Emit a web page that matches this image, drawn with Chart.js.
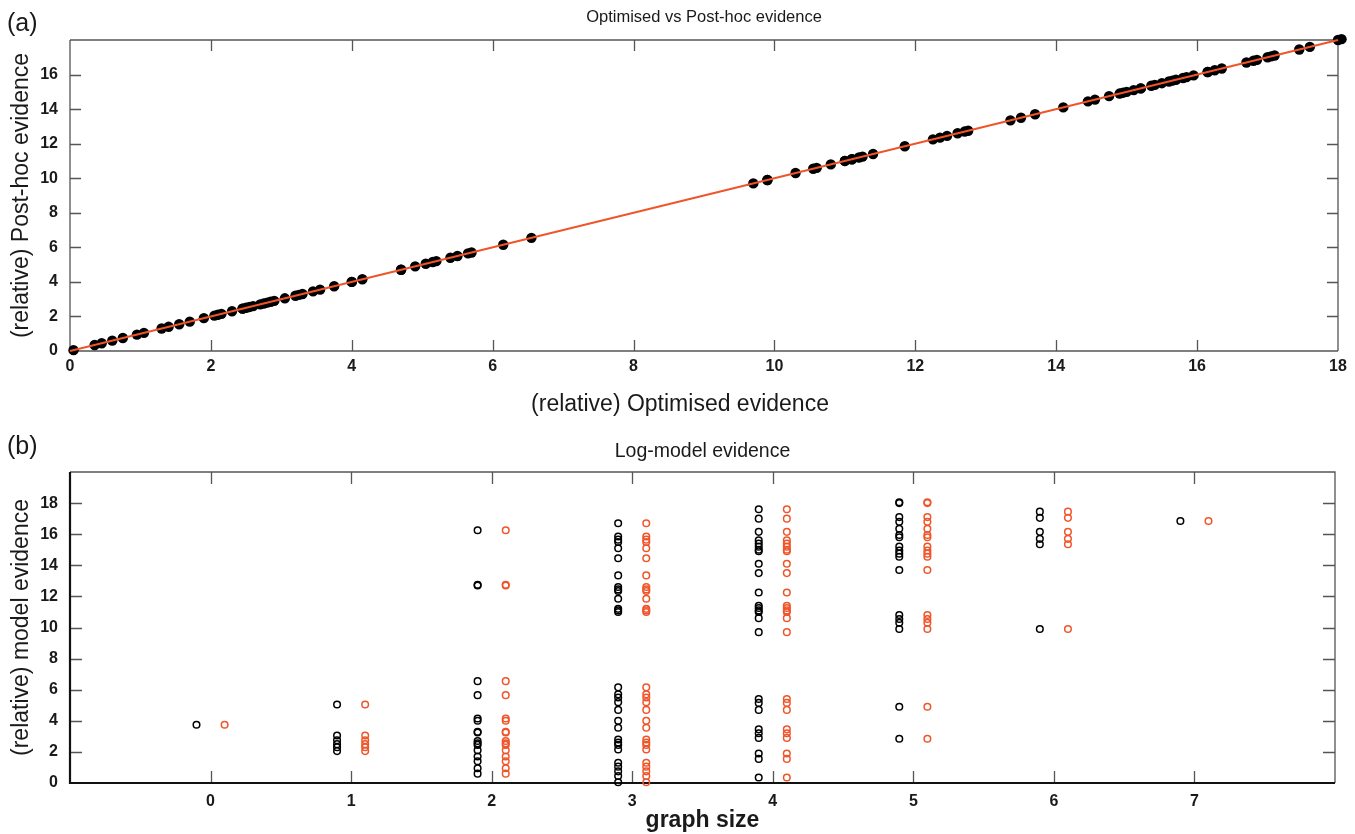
<!DOCTYPE html>
<html>
<head>
<meta charset="utf-8">
<title>Evidence plots</title>
<script src="https://cdn.jsdelivr.net/npm/chart.js@4.4.1/dist/chart.umd.min.js"></script>
<style>
  html, body { margin: 0; padding: 0; background: #fff; }
  canvas { position: absolute; left: 0; }
  #panelA { top: 0; }
  #panelB { top: 425px; }
</style>
</head>
<body>
<canvas id="panelA" width="1355" height="425"></canvas>
<canvas id="panelB" width="1355" height="409"></canvas>
<script>
// (relative) model evidence for every model, grouped by graph size
const graphSizes = [0, 1, 2, 3, 4, 5, 6, 7];
const size0 = [3.75];
const size1 = [5.05, 3.05, 2.75, 2.5, 2.3, 2.05];
const size2 = [16.25, 12.75, 12.7, 6.55, 5.65, 4.15, 4.0, 3.3, 3.25, 2.7, 2.55, 2.45, 2.1, 1.7, 1.4, 0.95, 0.6];
const size3 = [16.7, 15.85, 15.65, 15.5, 15.1, 14.45, 13.35, 12.6, 12.45, 12.35, 11.85, 11.2, 11.1, 11.0,
               6.15, 5.7, 5.5, 5.2, 4.7, 4.0, 3.55, 2.8, 2.6, 2.45, 2.15, 1.3, 1.05, 0.75, 0.45, 0.05];
const size4 = [17.6, 17.0, 16.15, 15.6, 15.4, 15.2, 15.0, 14.9, 14.1, 13.5, 12.25, 11.4, 11.25, 11.1, 11.0, 10.6, 9.7,
               5.4, 5.15, 4.7, 3.45, 3.2, 2.9, 1.9, 1.55, 0.35];
const size5 = [18.05, 18.0, 17.1, 16.8, 16.35, 15.95, 15.8, 15.2, 14.95, 14.75, 14.55, 13.7, 10.8, 10.55, 10.3, 9.9, 4.9, 2.85];
const size6 = [17.45, 17.05, 16.15, 15.7, 15.35, 9.9];
const size7 = [16.85];
const evidenceBySize = [size0, size1, size2, size3, size4, size5, size6, size7];

// diagonal reference line, optimised == post-hoc
const diagonalEnds = [0, 18];

// tick labels
const ticksA_x = [0, 2, 4, 6, 8, 10, 12, 14, 16, 18];
const ticksA_y = [0, 2, 4, 6, 8, 10, 12, 14, 16];
const ticksB_y = [0, 2, 4, 6, 8, 10, 12, 14, 16, 18];

const FONT = "'Liberation Sans', Arial, Helvetica, sans-serif";
const RED = '#f0552a';
const INK = '#1a1a1a';
const pairOffset = 0.1;

// matlab-ish box: frame plus short ticks pointing into the plot on all four sides
const boxTicks = {
  id: 'boxTicks',
  beforeDatasetsDraw(chart, args, opts) {
    const { ctx, chartArea: a, scales } = chart;
    const len = opts.len || 11;
    ctx.save();
    ctx.strokeStyle = opts.color || '#555';
    ctx.lineWidth = 1.3;
    ctx.beginPath();
    (opts.x || []).forEach(v => {
      const px = Math.round(scales.x.getPixelForValue(v)) + 0.5;
      ctx.moveTo(px, a.top); ctx.lineTo(px, a.top + len);
      ctx.moveTo(px, a.bottom); ctx.lineTo(px, a.bottom - len);
    });
    (opts.y || []).forEach(v => {
      const py = Math.round(scales.y.getPixelForValue(v)) + 0.5;
      ctx.moveTo(a.left, py); ctx.lineTo(a.left + len, py);
      ctx.moveTo(a.right, py); ctx.lineTo(a.right - len, py);
    });
    ctx.stroke();
    // top and right edges
    ctx.beginPath();
    ctx.moveTo(a.left, a.top); ctx.lineTo(a.right, a.top); ctx.lineTo(a.right, a.bottom);
    ctx.stroke();
    // left and bottom edges
    ctx.strokeStyle = opts.axisColor || '#555';
    ctx.lineWidth = opts.axisWidth || 1.3;
    ctx.beginPath();
    ctx.moveTo(a.left, a.top); ctx.lineTo(a.left, a.bottom); ctx.lineTo(a.right, a.bottom);
    ctx.stroke();
    ctx.restore();
  },
  afterDraw(chart, args, opts) {
    const { ctx, chartArea: a } = chart;
    ctx.save();
    ctx.fillStyle = INK;
    ctx.textBaseline = 'middle';
    if (opts.letter) {
      ctx.font = '25px ' + FONT;
      ctx.fillText(opts.letter, 7, opts.letterY);
    }
    // x caption sits a little left of the plot centre
    if (opts.caption) {
      ctx.font = '23px ' + FONT;
      ctx.textAlign = 'center';
      ctx.fillText(opts.caption, (a.left + a.right) / 2 + opts.captionShift, opts.captionY);
    }
    ctx.restore();
  }
};

function fixedTicks(list) {
  return scale => { scale.ticks = list.map(v => ({ value: v })); };
}

function tickStyle(pad) {
  return { padding: pad, color: INK, autoSkip: false, maxRotation: 0,
           font: { family: FONT, size: 16, weight: 'bold' } };
}

// ---- (a) optimised vs post-hoc ----
const allEvidence = [].concat(...evidenceBySize);
const pairsA = allEvidence.map(v => ({ x: v, y: v }));

new Chart(document.getElementById('panelA'), {
  type: 'scatter',
  data: {
    datasets: [
      {
        type: 'line',
        data: diagonalEnds.map(v => ({ x: v, y: v })),
        borderColor: RED,
        borderWidth: 2,
        pointRadius: 0,
        clip: false
      },
      {
        data: pairsA,
        backgroundColor: '#000',
        borderWidth: 0,
        pointRadius: 5.2,
        clip: false
      }
    ]
  },
  options: {
    responsive: false,
    animation: false,
    layout: { padding: { left: 0, right: 17, top: 0, bottom: 0 } },
    plugins: {
      legend: { display: false },
      tooltip: { enabled: false },
      title: {
        display: true,
        fullSize: false,
        text: 'Optimised vs Post-hoc evidence',
        color: INK,
        font: { family: FONT, size: 16.5, weight: 'normal' },
        padding: { top: 8, bottom: 12.2 }
      },
      boxTicks: { x: [2, 4, 6, 8, 10, 12, 14, 16], y: [2, 4, 6, 8, 10, 12, 14, 16], len: 11,
                  letter: '(a)', letterY: 24,
                  caption: '(relative) Optimised evidence', captionShift: -24, captionY: 405 }
    },
    scales: {
      x: {
        type: 'linear', min: 0, max: 18,
        afterBuildTicks: fixedTicks(ticksA_x),
        afterFit: s => { s.height = 74; },
        grid: { display: false }, border: { display: false },
        ticks: tickStyle(-2)
      },
      y: {
        type: 'linear', min: 0, max: 18,
        afterBuildTicks: fixedTicks(ticksA_y),
        afterFit: s => { s.width = 70; },
        grid: { display: false }, border: { display: false },
        ticks: tickStyle(4),
        title: { display: true, text: '(relative) Post-hoc evidence', color: INK,
                 font: { family: FONT, size: 23 }, padding: { top: 8, bottom: 0 } }
      }
    }
  },
  plugins: [boxTicks]
});

// ---- (b) log-model evidence against graph size ----
const optimisedPts = [];
const postHocPts = [];
evidenceBySize.forEach((vals, i) => {
  vals.forEach(v => {
    optimisedPts.push({ x: graphSizes[i] - pairOffset, y: v });
    postHocPts.push({ x: graphSizes[i] + pairOffset, y: v });
  });
});

const ringStyle = { pointStyle: 'circle', pointRadius: 3.3, borderWidth: 1.5,
                    backgroundColor: 'rgba(0,0,0,0)', clip: false };

new Chart(document.getElementById('panelB'), {
  type: 'scatter',
  data: {
    datasets: [
      { data: optimisedPts, borderColor: '#000', ...ringStyle },
      { data: postHocPts, borderColor: RED, ...ringStyle }
    ]
  },
  options: {
    responsive: false,
    animation: false,
    layout: { padding: { left: 0, right: 20, top: 0, bottom: 0 } },
    plugins: {
      legend: { display: false },
      tooltip: { enabled: false },
      title: {
        display: true,
        fullSize: false,
        text: 'Log-model evidence',
        color: INK,
        font: { family: FONT, size: 19.5, weight: 'normal' },
        padding: { top: 15, bottom: 8.6 }
      },
      boxTicks: { x: graphSizes, y: [2, 4, 6, 8, 10, 12, 14, 16, 18], len: 12,
                  axisColor: '#111', axisWidth: 2.2, letter: '(b)', letterY: 22 }
    },
    scales: {
      x: {
        type: 'linear', min: -1, max: 8,
        afterBuildTicks: fixedTicks(graphSizes),
        afterFit: s => { s.height = 51; },
        grid: { display: false }, border: { display: false },
        ticks: tickStyle(1),
        title: { display: true, text: 'graph size', color: INK,
                 font: { family: FONT, size: 23, weight: 'bold' }, padding: { top: 0, bottom: 0 } }
      },
      y: {
        type: 'linear', min: 0, max: 20,
        afterBuildTicks: fixedTicks(ticksB_y),
        afterFit: s => { s.width = 70; },
        grid: { display: false }, border: { display: false },
        ticks: tickStyle(4),
        title: { display: true, text: '(relative) model evidence', color: INK,
                 font: { family: FONT, size: 23 }, padding: { top: 8, bottom: 0 } }
      }
    }
  },
  plugins: [boxTicks]
});
</script>
</body>
</html>
